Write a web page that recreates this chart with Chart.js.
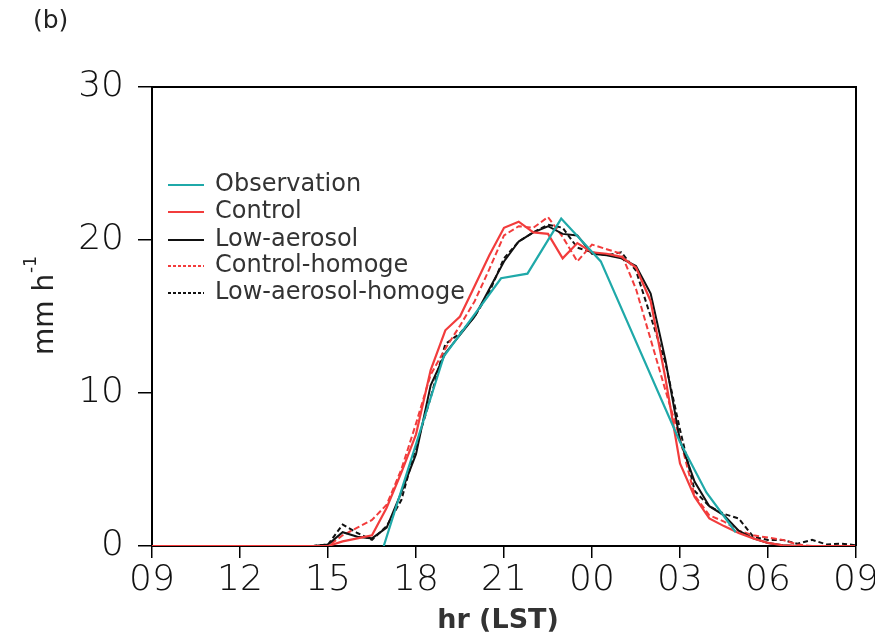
<!DOCTYPE html>
<html>
<head>
<meta charset="utf-8">
<script src="https://cdn.jsdelivr.net/npm/chart.js@4/dist/chart.umd.min.js"></script>
<style>
  html, body { margin: 0; padding: 0; background: #fff; }
</style>
</head>
<body>
<canvas id="rainChart" width="875" height="641"></canvas>
<script>
// hours since 09 LST, half-hourly model output
const hours = [0, 0.5, 1, 1.5, 2, 2.5, 3, 3.5, 4, 4.5, 5, 5.5, 6, 6.5, 7, 7.5, 8, 8.5, 9, 9.5,
    10, 10.5, 11, 11.5, 12, 12.5, 13, 13.5, 14, 14.5, 15, 15.5, 16, 16.5, 17, 17.5, 18, 18.5, 19, 19.5,
    20, 20.5, 21, 21.5, 22, 22.5, 23, 23.5, 24];
const tickLabels = ['09', '12', '15', '18', '21', '00', '03', '06', '09'];

const control = [0, 0, 0, 0, 0, 0, 0, 0, 0, 0, 0, 0, 0,
    0.3, 0.5, 0.7, 2.5, 4.8, 7.3, 11.5, 14.1, 15.0, 17.0, 19.0, 20.8, 21.2, 20.5, 20.4, 18.8, 19.8,
    19.2, 19.1, 18.9, 18.2, 16.0, 11.0, 5.4, 3.2, 1.8, 1.3, 0.85, 0.5, 0.2, 0.05, 0, 0, 0, 0, 0];
const controlHomoge = [0, 0, 0, 0, 0, 0, 0, 0, 0, 0, 0, 0, 0,
    0.7, 1.2, 1.7, 2.7, 5.0, 8.0, 11.2, 12.9, 14.4, 16.0, 18.1, 20.3, 20.9, 20.8, 21.5, 20.2, 18.6,
    19.7, 19.4, 19.1, 16.8, 13.5, 10.2, 7.0, 3.3, 2.0, 1.6, 1.0, 0.7, 0.55, 0.4, 0.1, 0, 0, 0, 0];
const lowAerosol = [0, 0, 0, 0, 0, 0, 0, 0, 0, 0, 0, 0,
    0.1, 0.9, 0.6, 0.5, 1.2, 3.5, 6.0, 10.5, 12.6, 13.8, 15.0, 16.8, 18.6, 19.9, 20.5, 20.9, 20.4, 20.3,
    19.1, 19.0, 18.8, 18.3, 16.5, 12.2, 6.9, 4.2, 2.6, 2.0, 1.0, 0.5, 0.2, 0.05, 0, 0, 0, 0, 0];
const lowAerosolHomoge = [0, 0, 0, 0, 0, 0, 0, 0, 0, 0, 0, 0,
    0.1, 1.4, 0.85, 0.4, 1.3, 3.0, 6.5, 9.7, 13.2, 13.9, 15.0, 16.6, 18.8, 19.9, 20.5, 21.0, 20.8, 19.5,
    19.2, 19.0, 19.2, 18.0, 15.0, 12.0, 7.6, 3.6, 2.6, 2.1, 1.8, 0.6, 0.4, 0.4, 0.15, 0.4, 0.1, 0.15, 0.05];

// observation (hourly, with a gap)
const obsHours = [7.9, 9.95, 11.9, 12.8, 13.95, 15.3, 18.0, 18.9, 19.9];
const observation = [0, 12.4, 17.5, 17.8, 21.4, 18.6, 6.8, 3.5, 0.9];

function toPoints(xs, ys) {
    return xs.map(function (x, i) { return { x: x, y: ys[i] }; });
}

const TEAL = '#1fa9a9';
const RED = '#f23c3c';
const BLACK = '#111111';
const FONT = 'DejaVu Sans, sans-serif';

// legend + frame + titles drawn by hand
const decorations = {
    id: 'decorations',
    afterDraw(chart) {
        const ctx = chart.ctx;
        const area = chart.chartArea;
        ctx.save();

        // top and right frame
        ctx.strokeStyle = '#000';
        ctx.lineWidth = 2;
        ctx.beginPath();
        ctx.moveTo(area.left, area.top);
        ctx.lineTo(area.right, area.top);
        ctx.lineTo(area.right, area.bottom);
        ctx.stroke();

        // legend
        const rows = [185, 212, 240, 266, 293];
        chart.data.datasets.forEach(function (ds, i) {
            const y = rows[i];
            ctx.strokeStyle = ds.borderColor;
            ctx.lineWidth = 1.8;
            ctx.setLineDash(ds.borderDash && ds.borderDash.length ? [3, 2] : []);
            ctx.beginPath();
            ctx.moveTo(168, y);
            ctx.lineTo(204, y);
            ctx.stroke();
            ctx.setLineDash([]);
            ctx.fillStyle = '#333';
            ctx.font = '24px ' + FONT;
            ctx.textAlign = 'left';
            ctx.textBaseline = 'middle';
            ctx.fillText(ds.label, 215, y);
        });

        // panel label
        ctx.fillStyle = '#222';
        ctx.font = '25px ' + FONT;
        ctx.textAlign = 'left';
        ctx.textBaseline = 'middle';
        ctx.fillText('(b)', 33, 21);

        // x title
        ctx.font = 'bold 27px ' + FONT;
        ctx.textAlign = 'center';
        ctx.fillStyle = '#333';
        ctx.fillText('hr (LST)', 498, 621);

        // y title with superscript
        ctx.translate(46, 306);
        ctx.rotate(-Math.PI / 2);
        ctx.fillStyle = '#222';
        ctx.font = '28px ' + FONT;
        ctx.textAlign = 'left';
        const main = 'mm h';
        const w = ctx.measureText(main).width;
        ctx.font = '17px ' + FONT;
        const ws = ctx.measureText('-1').width;
        const start = -(w + ws) / 2;
        ctx.font = '28px ' + FONT;
        ctx.fillText(main, start, 0);
        ctx.font = '17px ' + FONT;
        ctx.fillText('-1', start + w + 1, -14);

        ctx.restore();
    }
};

const ctx = document.getElementById('rainChart').getContext('2d');
const rainChart = new Chart(ctx, {
    type: 'line',
    data: {
        datasets: [
            { label: 'Observation', data: toPoints(obsHours, observation), borderColor: TEAL, borderWidth: 2.2 },
            { label: 'Control', data: toPoints(hours, control), borderColor: RED, borderWidth: 2.2 },
            { label: 'Low-aerosol', data: toPoints(hours, lowAerosol), borderColor: BLACK, borderWidth: 2 },
            { label: 'Control-homoge', data: toPoints(hours, controlHomoge), borderColor: RED, borderWidth: 2, borderDash: [6, 3] },
            { label: 'Low-aerosol-homoge', data: toPoints(hours, lowAerosolHomoge), borderColor: BLACK, borderWidth: 2, borderDash: [5, 3] }
        ]
    },
    options: {
        responsive: false,
        animation: false,
        layout: { padding: { top: 87, right: 19, bottom: 0, left: 0 } },
        elements: { point: { radius: 0 }, line: { tension: 0, fill: false } },
        plugins: { legend: { display: false }, tooltip: { enabled: false } },
        scales: {
            x: {
                type: 'linear',
                min: 0,
                max: 24,
                ticks: {
                    stepSize: 3,
                    autoSkip: false,
                    maxRotation: 0,
                    padding: 1,
                    color: '#111',
                    font: { family: FONT, size: 36, weight: 300 },
                    callback: function (v) { return tickLabels[Math.round(v / 3)]; }
                },
                grid: { drawOnChartArea: false, drawTicks: true, tickLength: 12, color: '#000', lineWidth: 1.5 },
                border: { color: '#000', width: 2 },
                afterFit: function (s) { s.height = 95; s.paddingLeft = 0; s.paddingRight = 0; }
            },
            y: {
                min: 0,
                max: 30,
                ticks: {
                    stepSize: 10,
                    padding: 14,
                    color: '#111',
                    font: { family: FONT, size: 36, weight: 300 }
                },
                grid: { drawOnChartArea: false, drawTicks: true, tickLength: 14, color: '#000', lineWidth: 1.5 },
                border: { color: '#000', width: 2 },
                afterFit: function (s) { s.width = 152; s.paddingTop = 0; s.paddingBottom = 0; }
            }
        }
    },
    plugins: [decorations]
});
</script>
</body>
</html>
